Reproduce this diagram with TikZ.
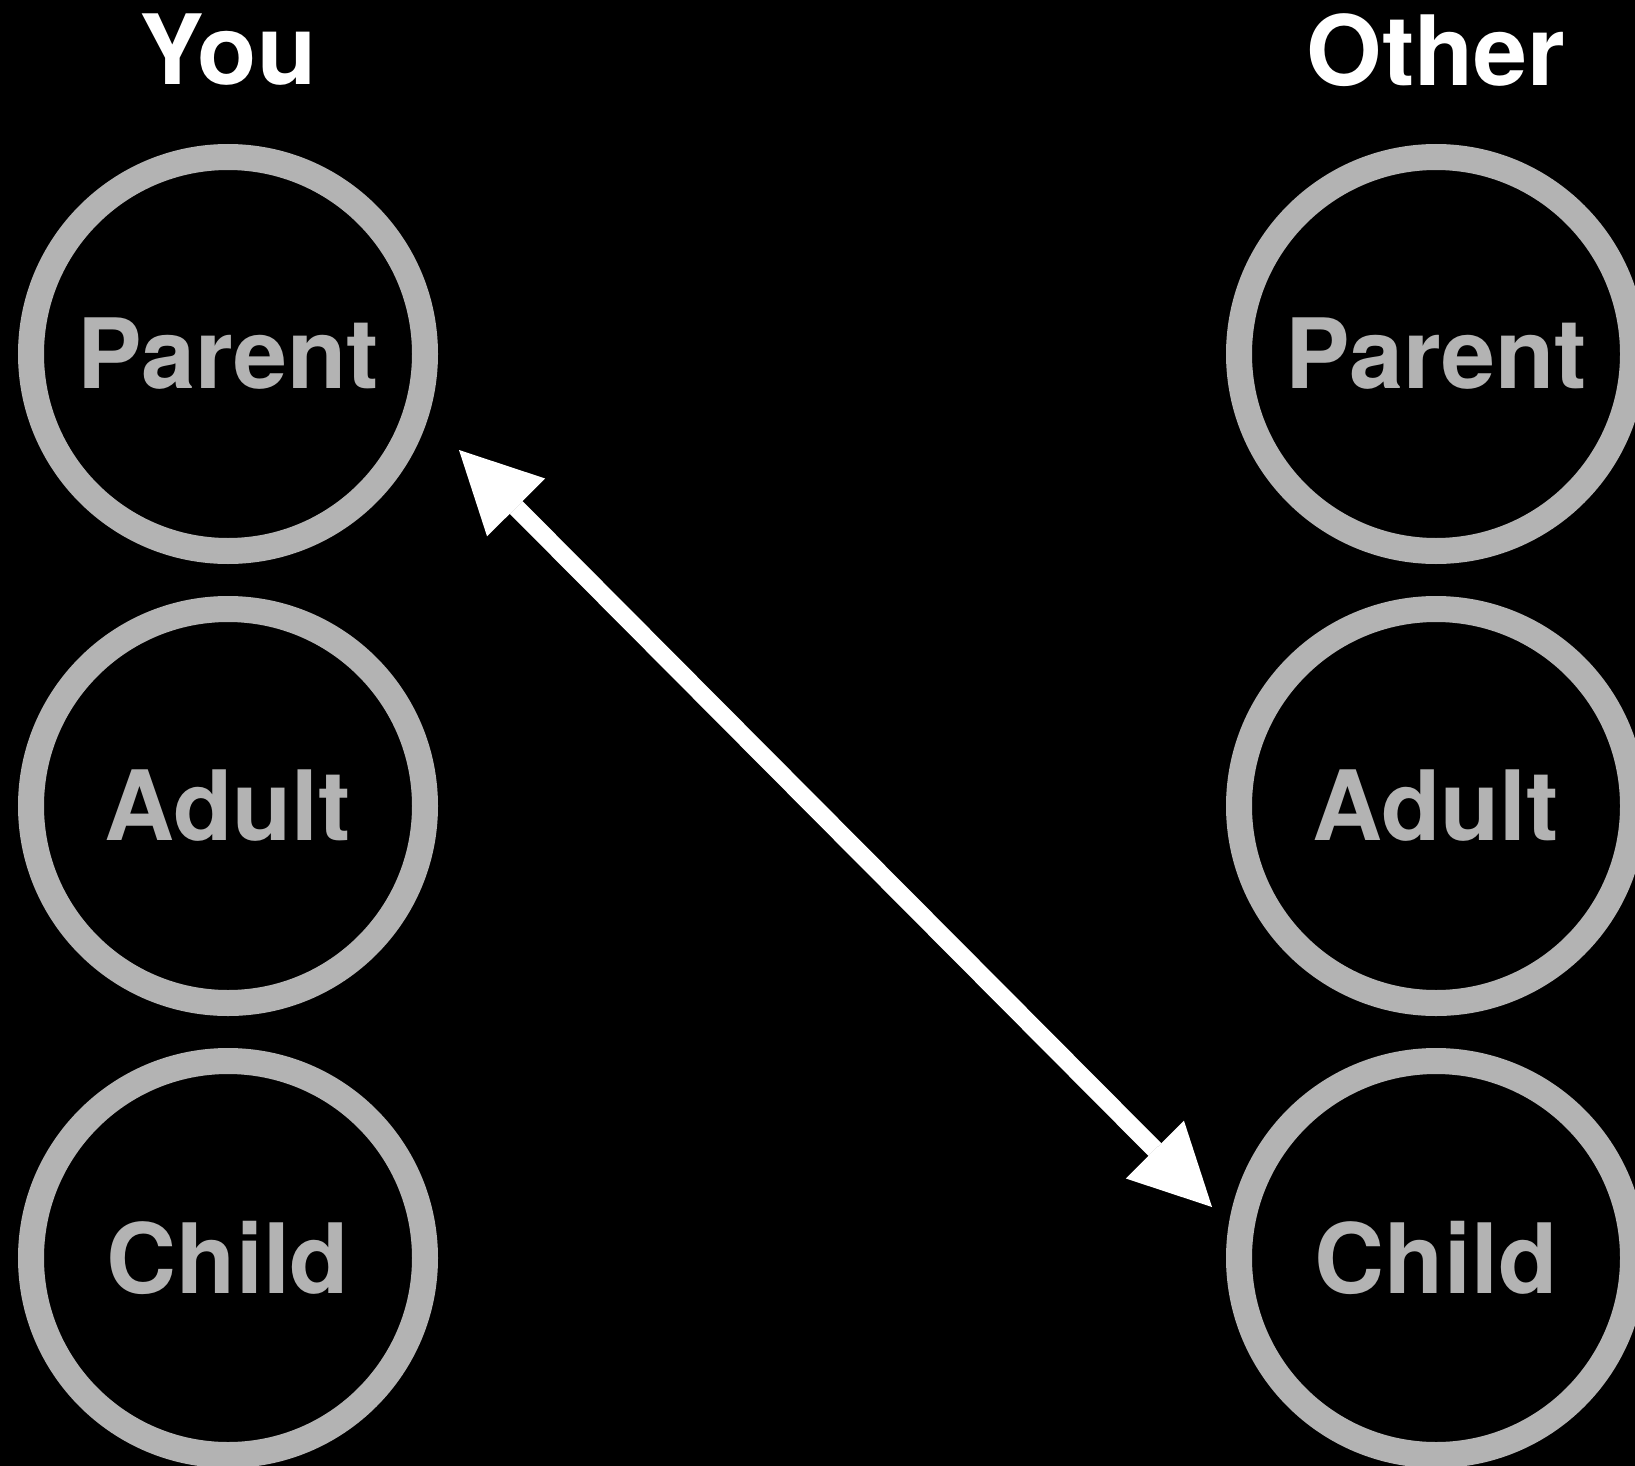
\documentclass[tikz,border=0pt]{standalone}
\usepackage{fontspec}
\setmainfont{TeX Gyre Heros}
\usetikzlibrary{positioning,arrows.meta,calc}
\definecolor{ringgray}{HTML}{B3B3B3}

\begin{document}
\begin{tikzpicture}[
    x=1pt,y=-1pt,
    role/.style={
      draw=ringgray,
      circle,
      line width=26pt,
      minimum size=394pt,
      inner sep=0pt,
      outer sep=13pt,
      text=ringgray,
      font=\fontsize{97}{100}\selectfont\bfseries
    },
    head/.style={
      text=white,
      inner sep=0pt,
      font=\fontsize{97}{100}\selectfont\bfseries
    },
    link/.style={
      draw=white,
      line width=18pt,
      {Triangle[length=81pt,width=82pt,line width=0pt]}-{Triangle[length=81pt,width=82pt,line width=0pt]}
    },
    node distance=32pt
    ]
    \fill[black] (0,0) rectangle (1635,1466);
    \useasboundingbox (0,0) rectangle (1635,1466);

    % you
    \node[role] at (228,354) (ypar) {Parent};
    \node[role,below=of ypar] (yadu) {Adult};
    \node[role,below=of yadu] (ychi) {Child};
    \node[head] at (228,50) (you) {You};

    % other
    \node[role] at (1436,354) (opar) {Parent};
    \node[role,below=of opar] (oadu) {Adult};
    \node[role,below=of oadu] (ochi) {Child};
    \node[head] at (1436,50) (other) {Other};

    \coordinate (ytip) at ($(ypar.center)+(231,96)$);
    \coordinate (otip) at ($(ochi.center)+(-224,-51)$);
    \draw[link] (ytip) -- (otip);
\end{tikzpicture}
\end{document}
